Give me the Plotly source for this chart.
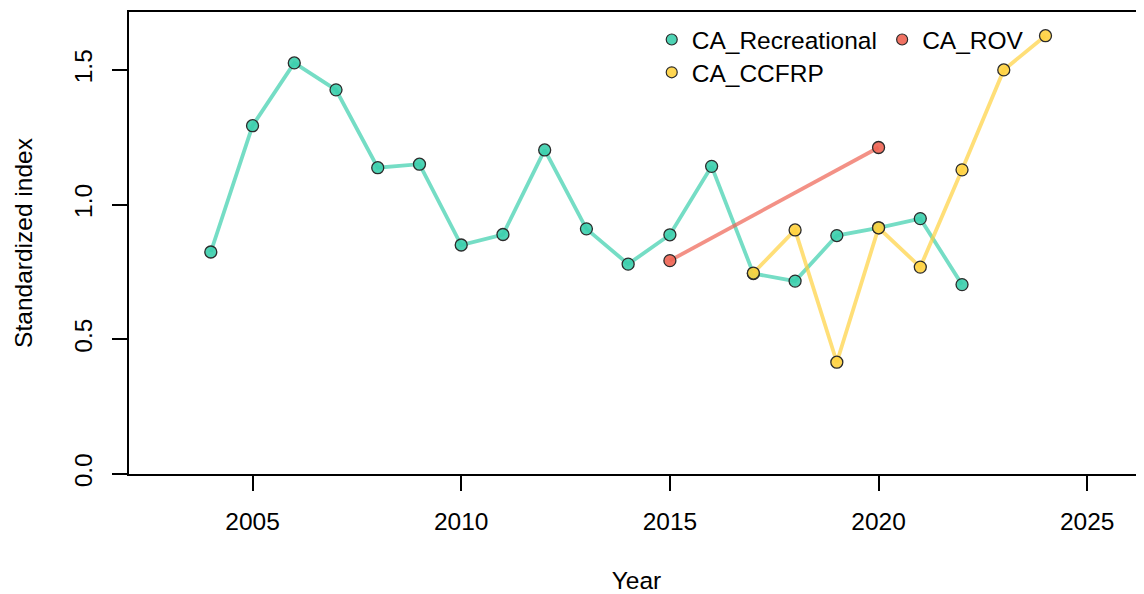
import plotly.graph_objects as go

# index values
rec_years = list(range(2004, 2023))
rec_index = [0.824, 1.293, 1.526, 1.426, 1.137, 1.150, 0.850, 0.889, 1.203, 0.910,
             0.779, 0.888, 1.142, 0.744, 0.716, 0.885, 0.914, 0.948, 0.703]

ccfrp_years = list(range(2017, 2025))
ccfrp_index = [0.746, 0.906, 0.415, 0.914, 0.768, 1.129, 1.500, 1.627]

rov_years = [2015, 2020]
rov_index = [0.792, 1.212]

x_ticks = [2005, 2010, 2015, 2020, 2025]
y_ticks = [0.0, 0.5, 1.0, 1.5]

FONT = "Liberation Sans, Arial, sans-serif"
FS = 24.5

series = [
    # name, years, values, line colour, fill colour, legend slot
    ("CA_Recreational", rec_years, rec_index, "rgba(59,206,172,0.7)", "rgba(59,206,172,0.9)", "legend"),
    ("CA_CCFRP", ccfrp_years, ccfrp_index, "rgba(255,210,63,0.7)", "rgba(255,210,63,0.9)", "legend3"),
    ("CA_ROV", rov_years, rov_index, "rgba(238,99,82,0.7)", "rgba(238,99,82,0.9)", "legend2"),
]

fig = go.Figure()

for name, xs, ys, lcol, fcol, leg in series:
    fig.add_trace(go.Scatter(
        x=xs, y=ys, mode="lines+markers", name=name, showlegend=False,
        line=dict(color=lcol, width=3.8),
        marker=dict(size=12, color=fcol, line=dict(color="#2b2b2b", width=1.3)),
    ))

# point-only legend keys, like base R's legend(pch=21)
for name, xs, ys, lcol, fcol, leg in series:
    fig.add_trace(go.Scatter(
        x=[None], y=[None], mode="markers", name=name, legend=leg,
        marker=dict(size=11, color=fcol, line=dict(color="#2b2b2b", width=1.2)),
    ))

axis_common = dict(
    showline=True, linecolor="black", linewidth=1.5, automargin=False,
    ticks="outside", ticklen=15, tickwidth=1.5, tickcolor="black",
    showgrid=False, zeroline=False,
    tickfont=dict(family=FONT, size=FS, color="black"),
)

leg_common = dict(xanchor="left", yanchor="top", bgcolor="rgba(0,0,0,0)",
                  font=dict(family=FONT, size=FS))

# page body adds an 8px offset, so the figure is 8px smaller than the window
fig.update_layout(
    width=1136, height=586,
    margin=dict(l=121, r=0, t=4, b=120, autoexpand=False),
    paper_bgcolor="white", plot_bgcolor="white",
    font=dict(family=FONT, size=FS, color="black"),
    xaxis=dict(
        **axis_common, mirror=True, range=[2002.04, 2026.36],
        tickvals=x_ticks, ticklabelstandoff=10,
        title=dict(text="Year", font=dict(family=FONT, size=FS), standoff=40),
    ),
    yaxis=dict(
        **axis_common, range=[0, 1.715], tickvals=y_ticks, tickformat=".1f",
        tickangle=-90, ticklabelstandoff=10,
        title=dict(text="Standardized index", font=dict(family=FONT, size=FS), standoff=31),
    ),
    legend=dict(x=0.515, y=0.989, **leg_common),
    legend2=dict(x=0.742, y=0.989, **leg_common),
    legend3=dict(x=0.515, y=0.918, **leg_common),
)

fig.write_html("out.html")
